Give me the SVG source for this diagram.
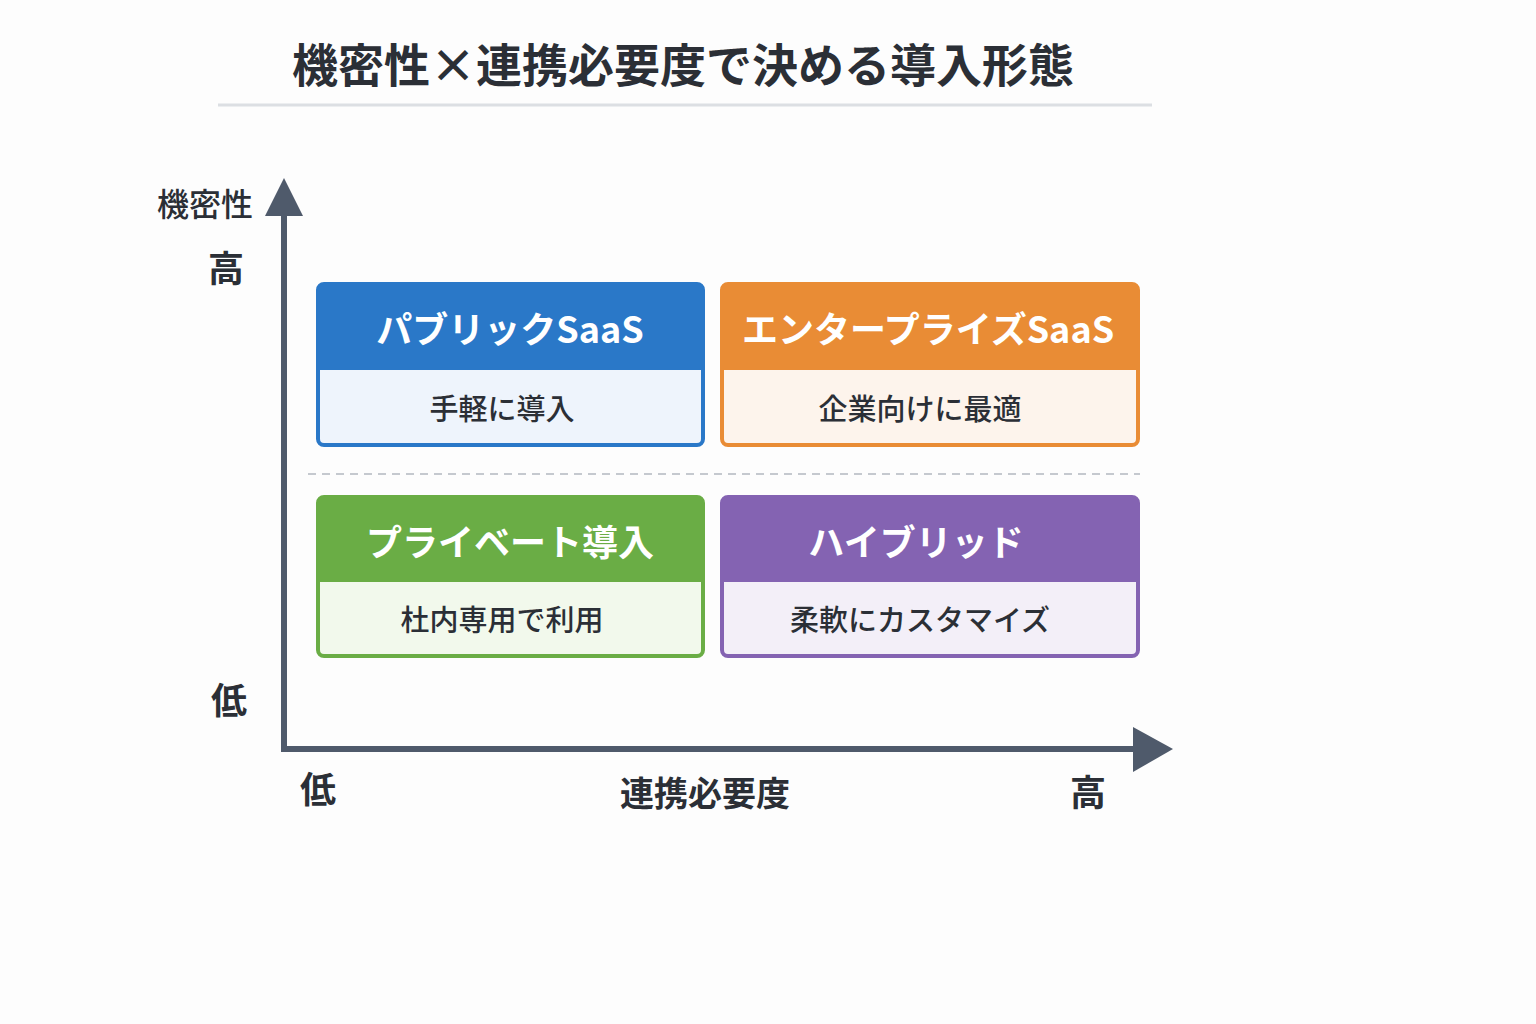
<svg xmlns="http://www.w3.org/2000/svg" width="1536" height="1024" viewBox="0 0 1536 1024">
<style>
text{font-family:"Noto Sans CJK JP","Noto Sans",sans-serif;fill:#2b2f36;text-anchor:middle}
.t{font-size:46px;font-weight:700}
.ax{font-size:36px;font-weight:700}
.h{font-size:36px;font-weight:700;fill:#fff}
.b{font-size:29px;font-weight:500}
.axis{stroke:#4f5a6b;stroke-width:6;fill:none}
</style>
<rect width="1536" height="1024" fill="#fdfdfd"/>
<text class="t" x="683" y="82">機密性×連携必要度で決める導入形態</text>
<line x1="218" y1="105" x2="1152" y2="105" stroke="#dcdfe3" stroke-width="3"/>
<g id="axes">
<line class="axis" x1="284" y1="752" x2="284" y2="210"/>
<polygon points="265,216 284,178 303,216" fill="#4f5a6b"/>
<line class="axis" x1="281" y1="749" x2="1140" y2="749"/>
<polygon points="1133,727 1173,749 1133,772" fill="#4f5a6b"/>
<text x="205" y="216" font-size="32" font-weight="500">機密性</text>
<text class="ax" x="226" y="282">高</text>
<text class="ax" x="229" y="714">低</text>
<text class="ax" x="318" y="803">低</text>
<text class="ax" x="705" y="806" style="font-size:34px">連携必要度</text>
<text class="ax" x="1088" y="806">高</text>
</g>
<line x1="308" y1="474" x2="1140" y2="474" stroke="#c5c9cf" stroke-width="2" stroke-dasharray="8,6"/>
<g id="public">
<rect x="318" y="284" width="385" height="161" rx="6" fill="#eef4fc" stroke="#2a78c8" stroke-width="4"/>
<path d="M318,370 V290 a6,6 0 0 1 6,-6 H697 a6,6 0 0 1 6,6 V370 Z" fill="#2a78c8"/>
<text class="h" x="510" y="343">パブリックSaaS</text>
<text class="b" x="502" y="420">手軽に導入</text>
</g>
<g id="enterprise">
<rect x="722" y="284" width="416" height="161" rx="6" fill="#fdf4ec" stroke="#e98c35" stroke-width="4"/>
<path d="M722,370 V290 a6,6 0 0 1 6,-6 H1132 a6,6 0 0 1 6,6 V370 Z" fill="#e98c35"/>
<text class="h" x="928" y="343">エンタープライズSaaS</text>
<text class="b" x="920" y="420">企業向けに最適</text>
</g>
<g id="private">
<rect x="318" y="497" width="385" height="159" rx="6" fill="#f2f9ec" stroke="#6aad45" stroke-width="4"/>
<path d="M318,582 V503 a6,6 0 0 1 6,-6 H697 a6,6 0 0 1 6,6 V582 Z" fill="#6aad45"/>
<text class="h" x="510" y="556">プライベート導入</text>
<text class="b" x="502" y="631">杜内専用で利用</text>
</g>
<g id="hybrid">
<rect x="722" y="497" width="416" height="159" rx="6" fill="#f3eff8" stroke="#8463b2" stroke-width="4"/>
<path d="M722,582 V503 a6,6 0 0 1 6,-6 H1132 a6,6 0 0 1 6,6 V582 Z" fill="#8463b2"/>
<text class="h" x="916" y="556">ハイブリッド</text>
<text class="b" x="920" y="631">柔軟にカスタマイズ</text>
</g>
</svg>
